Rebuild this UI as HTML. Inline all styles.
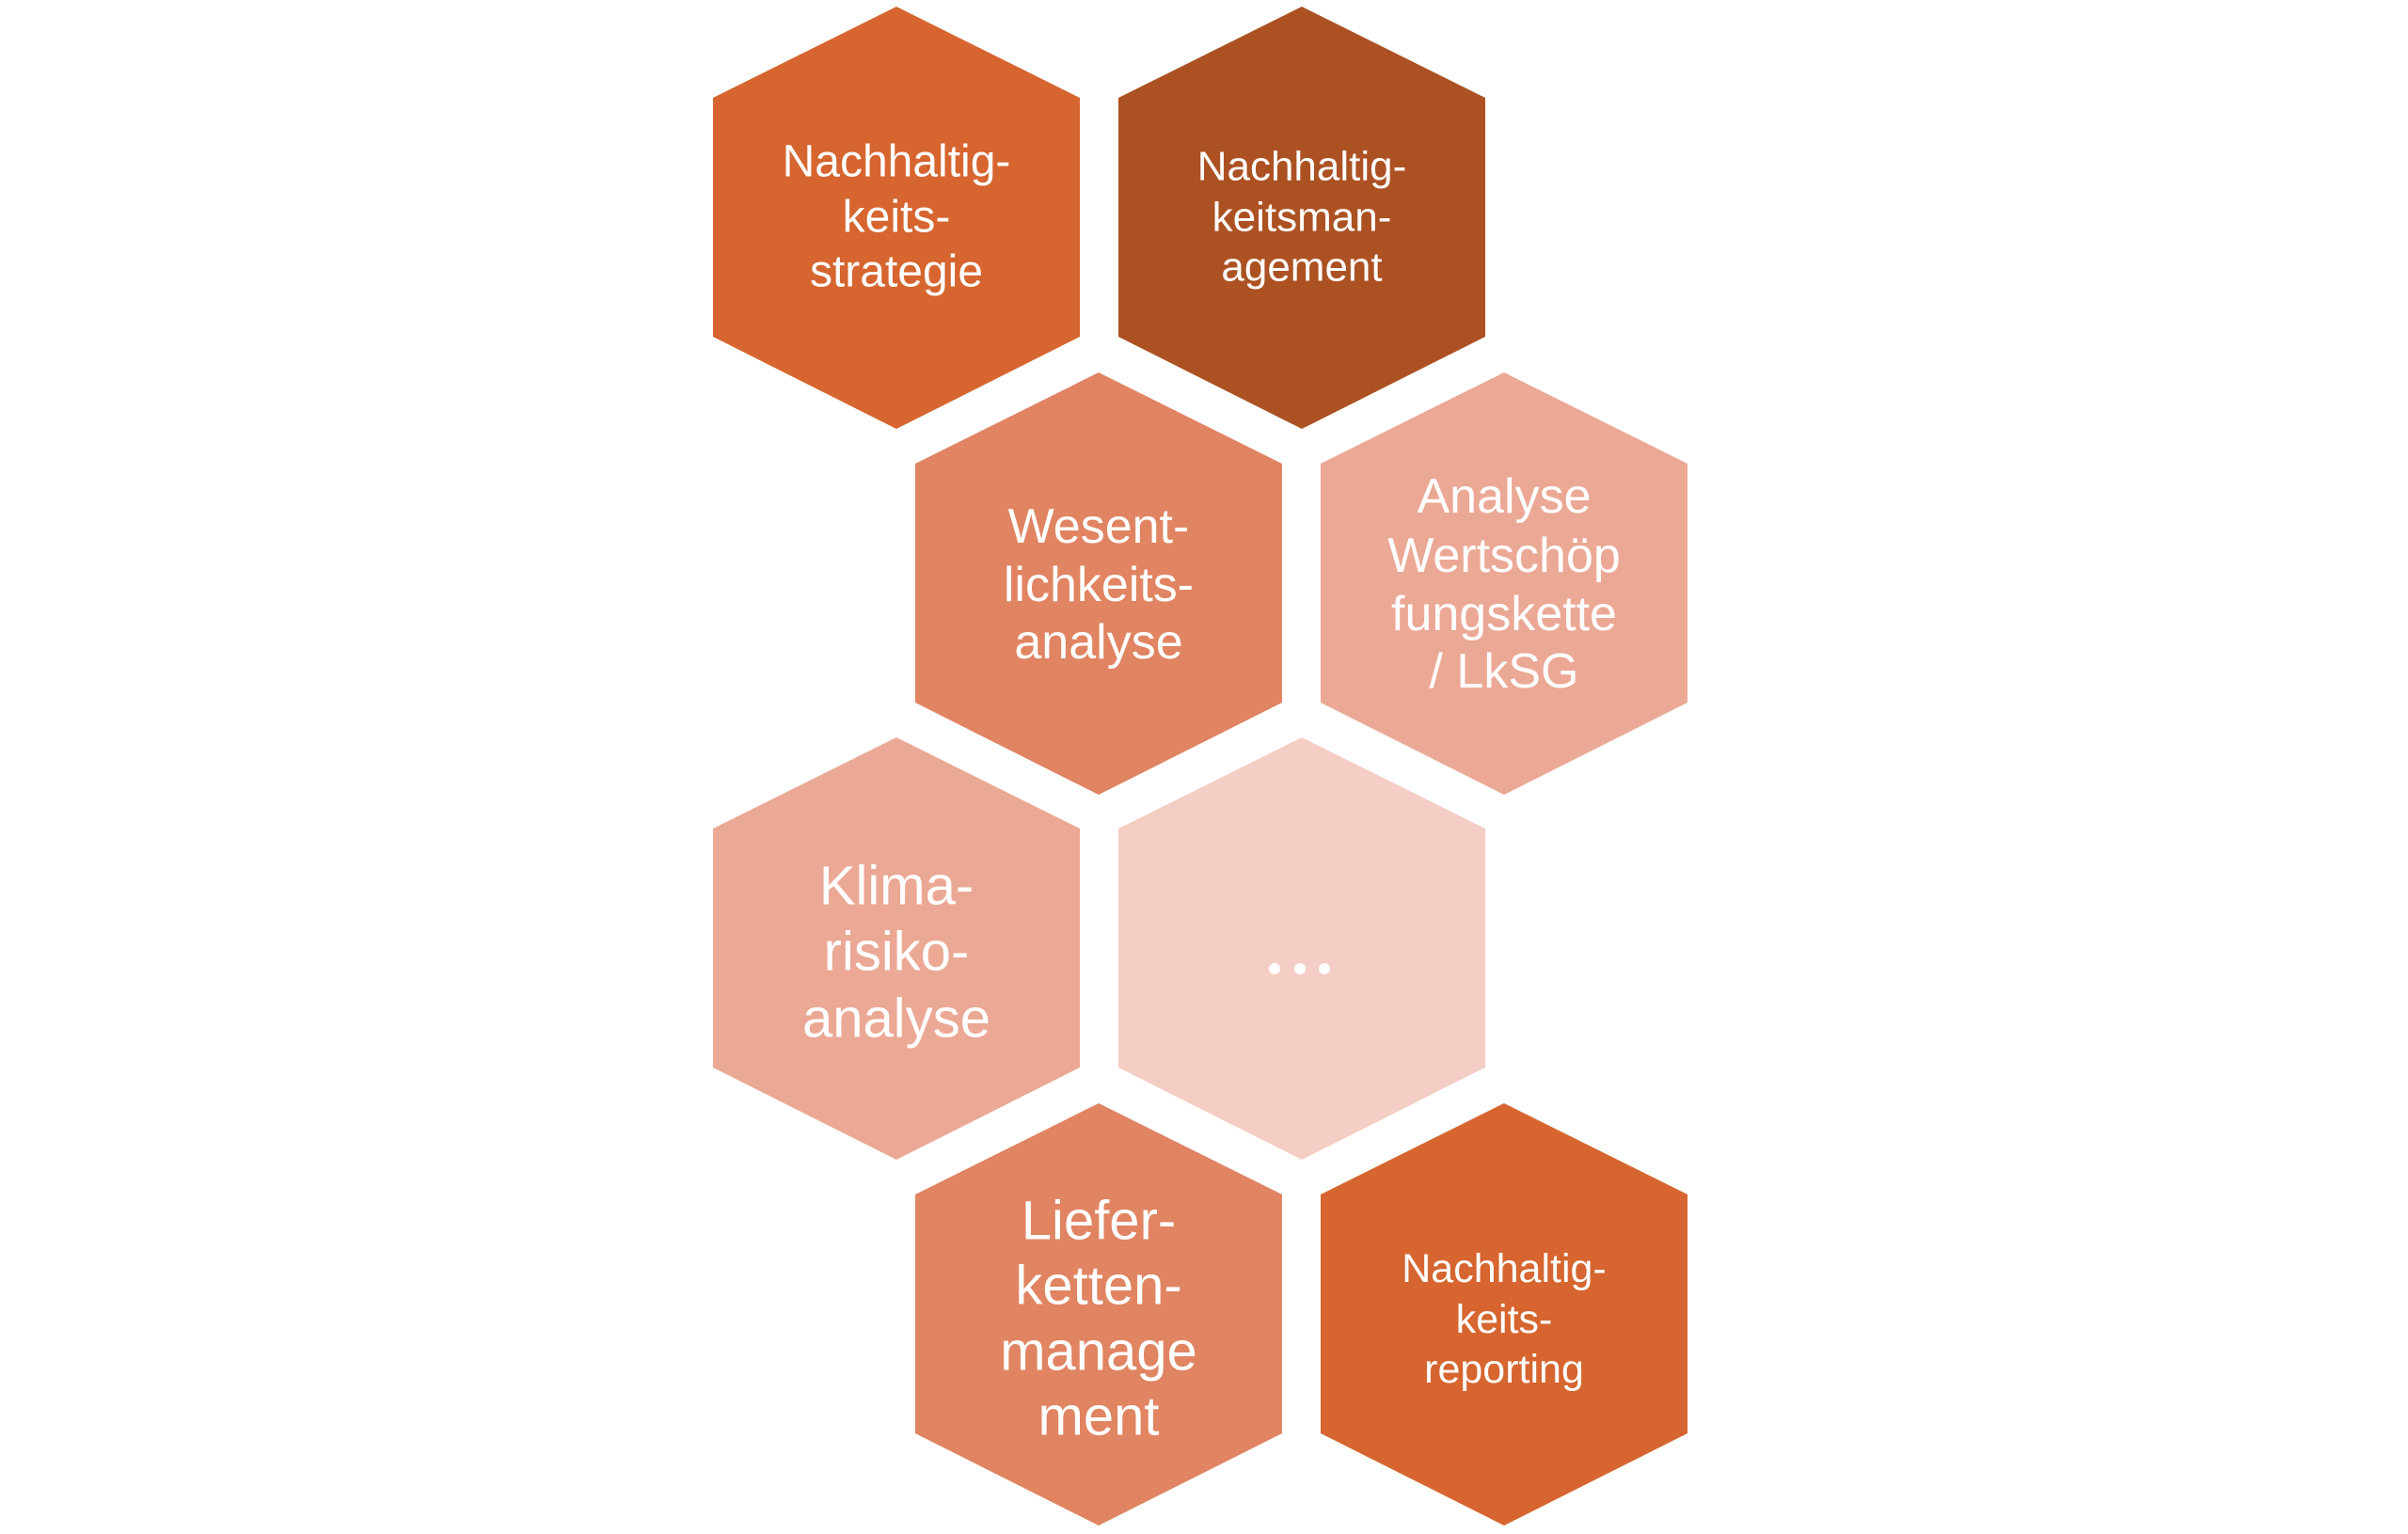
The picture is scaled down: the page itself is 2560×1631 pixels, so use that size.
<!DOCTYPE html>
<html><head><meta charset="utf-8"><style>
html,body{margin:0;padding:0;background:#fff;}
svg{display:block}
text{font-family:"Liberation Sans",sans-serif;fill:#fff;text-anchor:middle;dominant-baseline:central;}
</style></head><body>
<svg width="2560" height="1631" viewBox="0 0 2560 1631" xmlns="http://www.w3.org/2000/svg">
<g>
<polygon points="953,7 1148,104 1148,358 953,456 758,358 758,104" fill="#D6652F"/>
<polygon points="1384,7 1579,104 1579,358 1384,456 1189,358 1189,104" fill="#AC5122"/>
<polygon points="1168,396 1363,493 1363,747 1168,845 973,747 973,493" fill="#E08462"/>
<polygon points="1599,396 1794,493 1794,747 1599,845 1404,747 1404,493" fill="#EBA895"/>
<polygon points="953,784 1148,881 1148,1135 953,1233 758,1135 758,881" fill="#EBA895"/>
<polygon points="1384,784 1579,881 1579,1135 1384,1233 1189,1135 1189,881" fill="#F4CEC4"/>
<polygon points="1168,1173 1363,1270 1363,1524 1168,1622 973,1524 973,1270" fill="#E08462"/>
<polygon points="1599,1173 1794,1270 1794,1524 1599,1622 1404,1524 1404,1270" fill="#D6652F"/>
</g>
<g font-size="48">
<text x="953" y="172">Nachhaltig-</text>
<text x="953" y="231">keits-</text>
<text x="953" y="289">strategie</text>
</g>
<g font-size="44">
<text x="1384" y="177">Nachhaltig-</text>
<text x="1384" y="231">keitsman-</text>
<text x="1384" y="284">agement</text>
</g>
<g font-size="52">
<text x="1168" y="560">Wesent-</text>
<text x="1168" y="622">lichkeits-</text>
<text x="1168" y="683">analyse</text>
</g>
<g font-size="52">
<text x="1599" y="528">Analyse</text>
<text x="1599" y="591">Wertschöp</text>
<text x="1599" y="653">fungskette</text>
<text x="1599" y="714">/ LkSG</text>
</g>
<g font-size="58">
<text x="953" y="942">Klima-</text>
<text x="953" y="1012">risiko-</text>
<text x="953" y="1083">analyse</text>
</g>
<circle cx="1355" cy="1030" r="6" fill="#fff"/>
<circle cx="1382" cy="1030" r="6" fill="#fff"/>
<circle cx="1408" cy="1030" r="6" fill="#fff"/>
<g font-size="58">
<text x="1168" y="1298">Liefer-</text>
<text x="1168" y="1367">ketten-</text>
<text x="1168" y="1437">manage</text>
<text x="1168" y="1506">ment</text>
</g>
<g font-size="43">
<text x="1599" y="1349">Nachhaltig-</text>
<text x="1599" y="1403">keits-</text>
<text x="1599" y="1456">reporting</text>
</g>
</svg>
</body></html>
